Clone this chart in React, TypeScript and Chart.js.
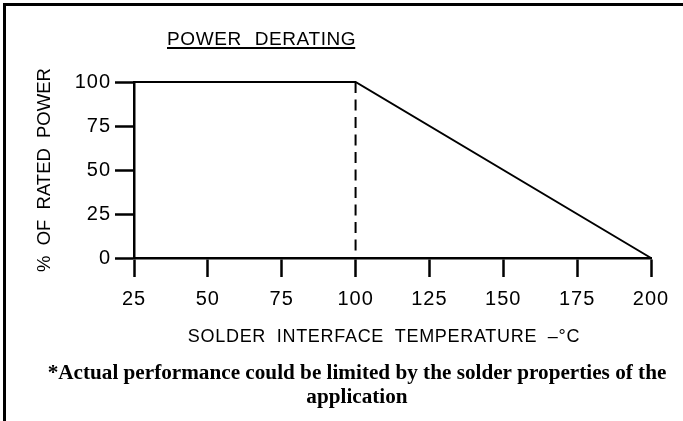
import React, { useEffect, useRef } from 'react';
import { Chart, registerables } from 'chart.js';

Chart.register(...registerables);

// ---- data ----
const temperatureC = [25, 100, 200];
const ratedPowerPct = [100, 100, 0];
const kneeTemperatureC = [100, 100];
const kneePowerPct = [100, 0];
const xTickValues = [25, 50, 75, 100, 125, 150, 175, 200];
const yTickValues = [0, 25, 50, 75, 100];
const chartTitle = 'POWER DERATING';
const xAxisTitle = 'SOLDER INTERFACE TEMPERATURE –°C';
const yAxisTitle = '% OF RATED POWER';
const footnoteLines = [
  '*Actual performance could be limited by the solder properties of the',
  'application',
];

const SANS = '"Liberation Sans", Arial, sans-serif';
const SERIF = '"Liberation Serif", "Times New Roman", serif';

const decorPlugin = {
  id: 'decor',
  beforeDraw(chart: any) {
    const ctx = chart.ctx as any;
    ctx.save();
    ctx.fillStyle = '#ffffff';
    ctx.fillRect(0, 0, chart.width, chart.height);
    ctx.fillStyle = '#000000';
    ctx.fillRect(3, 3, chart.width - 3, 3);
    ctx.fillRect(3, 3, 3, chart.height - 3);
    ctx.restore();
    ctx.letterSpacing = '1px';
  },
  afterDraw(chart: any) {
    const ctx = chart.ctx as any;
    ctx.letterSpacing = '0px';
    ctx.save();
    ctx.fillStyle = '#000000';

    // chart title, underlined
    ctx.font = `19px ${SANS}`;
    ctx.letterSpacing = '0.6px';
    ctx.wordSpacing = '7px';
    ctx.textAlign = 'left';
    ctx.textBaseline = 'alphabetic';
    ctx.fillText(chartTitle, 167, 45);
    const tw = ctx.measureText(chartTitle).width;
    ctx.fillRect(167, 47, tw - 1, 2);

    // y axis title
    ctx.save();
    ctx.font = `18.5px ${SANS}`;
    ctx.letterSpacing = '0px';
    ctx.wordSpacing = '5px';
    ctx.translate(45, 170);
    ctx.rotate(-Math.PI / 2);
    ctx.textAlign = 'center';
    ctx.textBaseline = 'middle';
    ctx.fillText(yAxisTitle, 0, 0);
    ctx.restore();

    // x axis title
    ctx.font = `18px ${SANS}`;
    ctx.letterSpacing = '0.7px';
    ctx.wordSpacing = '5px';
    ctx.textAlign = 'center';
    ctx.textBaseline = 'alphabetic';
    ctx.fillText(xAxisTitle, 384, 342);

    // footnote
    ctx.font = `bold 21.2px ${SERIF}`;
    ctx.letterSpacing = '0px';
    ctx.wordSpacing = '0px';
    ctx.textAlign = 'center';
    ctx.fillText(footnoteLines[0], 357, 379);
    ctx.fillText(footnoteLines[1], 357, 403);
    ctx.restore();
  },
};

export default function App() {
  const canvasRef = useRef<HTMLCanvasElement | null>(null);

  useEffect(() => {
    const canvas = canvasRef.current;
    if (!canvas) return;
    const chart = new Chart(canvas, {
      type: 'line',
      data: {
        datasets: [
          {
            label: 'Derating',
            data: temperatureC.map((t, i) => ({ x: t, y: ratedPowerPct[i] })),
            borderColor: '#000000',
            borderWidth: 2,
            pointRadius: 0,
            tension: 0,
            fill: false,
            clip: 5,
          },
          {
            label: 'Knee',
            data: kneeTemperatureC.map((t, i) => ({ x: t, y: kneePowerPct[i] })),
            borderColor: '#000000',
            borderWidth: 2,
            borderDash: [11, 6.5],
            pointRadius: 0,
            tension: 0,
            fill: false,
            clip: 5,
          },
        ],
      },
      options: {
        responsive: false,
        animation: false,
        devicePixelRatio: 1,
        layout: { padding: { left: 0, top: 82, right: 32, bottom: 0 } },
        plugins: {
          legend: { display: false },
          tooltip: { enabled: false },
          title: { display: false },
        },
        scales: {
          x: {
            type: 'linear',
            min: xTickValues[0],
            max: xTickValues[xTickValues.length - 1],
            afterBuildTicks: (scale: any) => {
              scale.ticks = xTickValues.map((value) => ({ value }));
            },
            afterFit: (scale: any) => {
              scale.height = 163;
            },
            grid: {
              display: true,
              drawOnChartArea: false,
              drawTicks: true,
              tickLength: 19,
              tickWidth: 2.5,
              tickColor: '#000000',
            },
            border: { display: true, color: '#000000', width: 2.5 },
            ticks: {
              color: '#000000',
              font: { family: SANS, size: 20 },
              padding: 10,
              maxRotation: 0,
              autoSkip: false,
            },
            title: { display: false },
          },
          y: {
            type: 'linear',
            min: yTickValues[0],
            max: yTickValues[yTickValues.length - 1],
            afterBuildTicks: (scale: any) => {
              scale.ticks = yTickValues.map((value) => ({ value }));
            },
            afterFit: (scale: any) => {
              scale.width = 134;
            },
            grid: {
              display: true,
              drawOnChartArea: false,
              drawTicks: true,
              tickLength: 19,
              tickWidth: 2.5,
              tickColor: '#000000',
            },
            border: { display: true, color: '#000000', width: 2.5 },
            ticks: {
              color: '#000000',
              font: { family: SANS, size: 20 },
              padding: 4,
              autoSkip: false,
            },
            title: { display: false },
          },
        },
      },
      plugins: [decorPlugin],
    } as any);
    return () => chart.destroy();
  }, []);

  return (
    <div
      style={{
        position: 'absolute',
        left: 0,
        top: 0,
        width: 683,
        height: 421,
        background: '#ffffff',
      }}
    >
      <canvas ref={canvasRef} width={683} height={421} style={{ display: 'block' }} />
    </div>
  );
}
